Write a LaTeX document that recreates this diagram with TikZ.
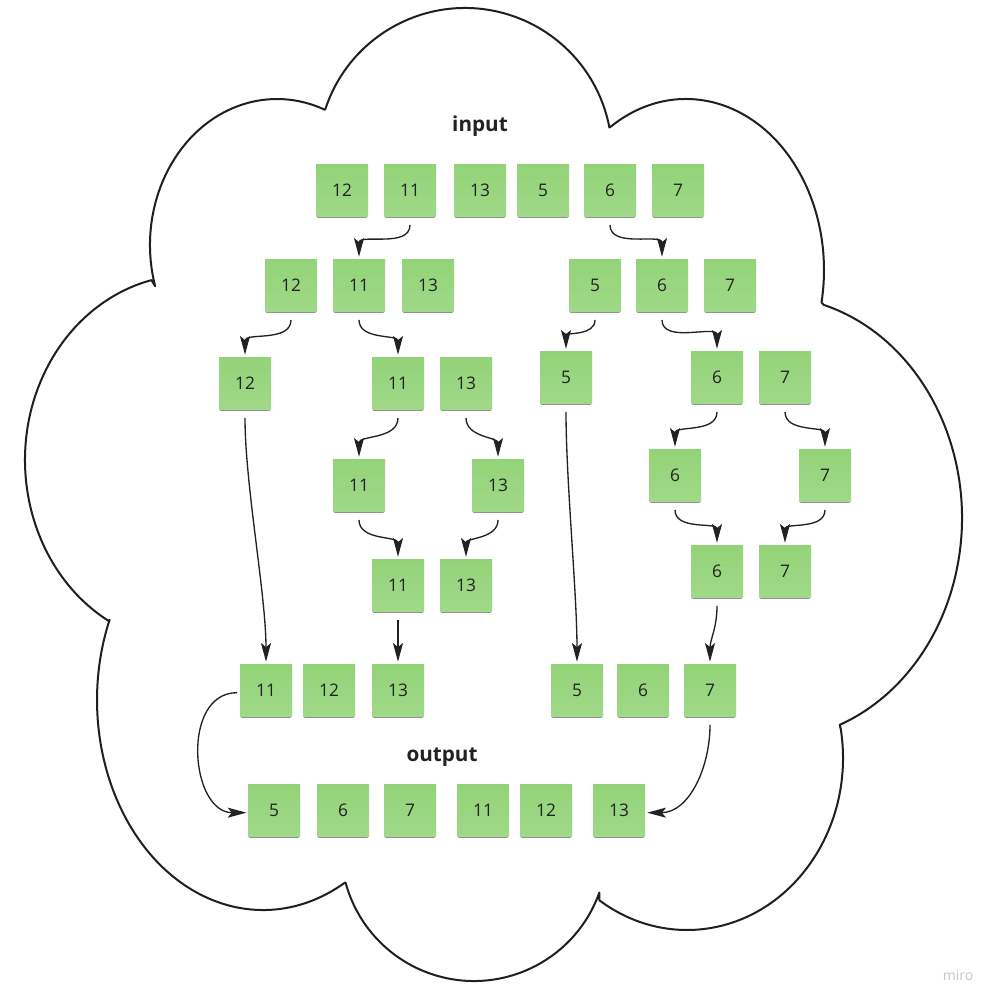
\documentclass[tikz,border=0pt]{standalone}
\usepackage{fontspec}
\setmainfont{Open Sans}
\usetikzlibrary{arrows.meta,shadows}
\definecolor{notegreen}{RGB}{147,211,120}
\definecolor{notegreenlight}{RGB}{160,217,137}
\definecolor{inkc}{RGB}{34,34,34}
\begin{document}
\begin{tikzpicture}[x=0.75pt,y=0.75pt,
  note/.style={minimum width=39pt,minimum height=39pt,inner sep=0pt,
    top color=notegreen,bottom color=notegreenlight,draw=none,
    text=inkc,font=\fontsize{13}{15}\selectfont,
    drop shadow={shadow xshift=0pt,shadow yshift=-2.4pt,shadow scale=0.96,opacity=0.32,fill=black},
    drop shadow={shadow xshift=0pt,shadow yshift=-3.6pt,shadow scale=0.92,opacity=0.16,fill=black}},
  title/.style={font=\fontsize{15.5}{18}\selectfont\bfseries,text=inkc},
  conn/.style={-{Stealth[length=14pt,width=7.5pt,inset=3pt]},line width=1pt,draw=inkc},
  cloudline/.style={line width=1.5pt,draw=black!88,line join=round}]
\fill[white] (0,0) rectangle (996,-1003);
\useasboundingbox (0,0) rectangle (996,-1003);

% cloud
\draw[cloudline]
  ([shift={(465,-155)}]161.8:147 and 147) arc[start angle=161.8,end angle=10.8,x radius=147,y radius=147]
  -- ([shift={(686,-270)}]123:138 and 171) arc[start angle=123,end angle=-10.9,x radius=138,y radius=171]
  -- ([shift={(770,-518)}]73.8:192 and 222) arc[start angle=73.8,end angle=-68.7,x radius=192,y radius=222]
  -- ([shift={(687,-758)}]9.7:156 and 172) arc[start angle=9.7,end angle=-124.2,x radius=156,y radius=172]
  -- ([shift={(474,-848)}]-19.6:133 and 133) arc[start angle=-19.6,end angle=-164.8,x radius=133,y radius=133]
  -- ([shift={(263,-700)}]-60.4:166 and 210) arc[start angle=-60.4,end angle=-202.5,x radius=166,y radius=210]
  -- ([shift={(190,-460)}]240.7:165 and 185) arc[start angle=240.7,end angle=103.5,x radius=165,y radius=185]
  -- ([shift={(277,-245)}]196.4:127 and 146) arc[start angle=196.4,end angle=67.9,x radius=127,y radius=146]
  -- cycle;

% titles
\node[title] (tin) at (480,-126) {input};
\node[title] (tout) at (442,-757) {output};
\node[font=\fontsize{10.5}{12}\selectfont,text=black!22] (miro) at (958,-975) {miro};

% row 1
\node[note] (a1) at (342,-190) {12};
\node[note] (a2) at (410,-190) {11};
\node[note] (a3) at (480,-190) {13};
\node[note] (a4) at (543,-190) {5};
\node[note] (a5) at (610,-190) {6};
\node[note] (a6) at (678,-190) {7};
% row 2
\node[note] (b1) at (291,-285) {12};
\node[note] (b2) at (359,-285) {11};
\node[note] (b3) at (428,-285) {13};
\node[note] (b4) at (595,-285) {5};
\node[note] (b5) at (662,-285) {6};
\node[note] (b6) at (730,-285) {7};
% row 3
\node[note] (c1) at (245,-383) {12};
\node[note] (c2) at (398,-383) {11};
\node[note] (c3) at (466,-383) {13};
\node[note] (c4) at (566,-377) {5};
\node[note] (c5) at (717,-377) {6};
\node[note] (c6) at (785,-377) {7};
% row 4
\node[note] (d1) at (359,-485) {11};
\node[note] (d2) at (498,-485) {13};
\node[note] (d3) at (675,-475) {6};
\node[note] (d4) at (825,-475) {7};
% row 5
\node[note] (e1) at (398,-585) {11};
\node[note] (e2) at (466,-585) {13};
\node[note] (e3) at (717,-571) {6};
\node[note] (e4) at (785,-571) {7};
% row 6
\node[note] (f1) at (266,-690) {11};
\node[note] (f2) at (329,-690) {12};
\node[note] (f3) at (398,-690) {13};
\node[note] (f4) at (577,-690) {5};
\node[note] (f5) at (643,-690) {6};
\node[note] (f6) at (710,-690) {7};
% output row
\node[note] (g1) at (274,-810) {5};
\node[note] (g2) at (343,-810) {6};
\node[note] (g3) at (410,-810) {7};
\node[note] (g4) at (483,-810) {11};
\node[note] (g5) at (546,-810) {12};
\node[note] (g6) at (619,-810) {13};

% connectors
\foreach \s/\t in {a2/b2,a5/b5,b1/c1,b2/c2,b4/c4,b5/c5,c2/d1,c3/d2,c5/d3,c6/d4,d1/e1,d2/e2,d3/e3,d4/e4,e3/f6}
  \draw[conn] ([yshift=-6.5pt]\s.south) to[out=-90,in=90] ([yshift=1.5pt]\t.north);
\draw[conn] ([yshift=-6.5pt]c1.south) to[out=-90,in=90,looseness=0.7] ([yshift=1.5pt]f1.north);
\draw[conn] ([yshift=-6.5pt]c4.south) to[out=-90,in=90,looseness=0.7] ([yshift=1.5pt]f4.north);
\draw[conn] ([yshift=-6.5pt]e1.south) -- ([yshift=1.5pt]f3.north);
\draw[conn] ([xshift=-2pt,yshift=-2pt]f1.west) to[out=180,in=180,looseness=1.2] ([xshift=-1pt,yshift=-2pt]g1.west);
\draw[conn] ([yshift=-6.5pt]f6.south) to[out=-90,in=0] ([xshift=1.5pt,yshift=-2pt]g6.east);
\end{tikzpicture}
\end{document}
